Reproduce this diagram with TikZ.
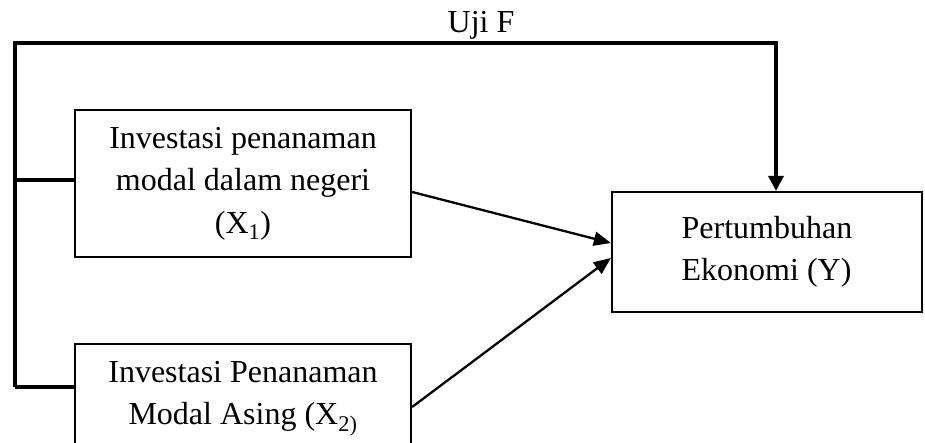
\documentclass[tikz,border=0pt]{standalone}
\usepackage{fontspec}
\setmainfont{Liberation Serif}
\usetikzlibrary{arrows.meta,calc}
\begin{document}
\begin{tikzpicture}[x=1pt,y=-1pt,
 box/.style={draw,line width=2.3pt,inner sep=0pt,align=center,font=\fontsize{32}{42.5}\selectfont},
 frame/.style={line width=3.4pt},
 conn/.style={line width=2.3pt,-{Triangle[length=17pt,width=14pt]}},
 lbl/.style={font=\fontsize{32}{42.5}\selectfont,inner sep=0pt,anchor=base},
]
\useasboundingbox (0,0) rectangle (925,443);
\clip (0,0) rectangle (925,443);
\node[box,minimum width=336pt,minimum height=147pt] (x1) at (243,183.5)
  {Investasi penanaman\\modal dalam negeri\\(X\textsubscript{1})};
\node[box,minimum width=336pt,minimum height=110pt] (x2) at (243,399)
  {Investasi Penanaman\\Modal Asing (X\textsubscript{2)}};
\node[box,align=left,minimum width=310pt,minimum height=120pt] (y) at (767,252)
  {Pertumbuhan\\Ekonomi (Y)};
\node[lbl] (ujif) at (481,33) {Uji F};
\coordinate (tl) at (15,43);
\coordinate (tr) at (776,43);
\coordinate (b1) at (15,180);
\coordinate (b2) at (15,387);
\draw[frame,-{Triangle[length=15pt,width=15pt]}] (b2) -- (tl) -- (tr) -- (tr |- y.north);
\draw[frame] (b1) -- (b1 -| x1.west);
\draw[frame] (b2) -- (b2 -| x2.west);
\draw[conn] ([yshift=-8.5pt]x1.east) -- ([yshift=9pt]y.west);
\draw[conn] ([yshift=-8pt]x2.east) -- ([yshift=-6pt]y.west);
\end{tikzpicture}
\end{document}
